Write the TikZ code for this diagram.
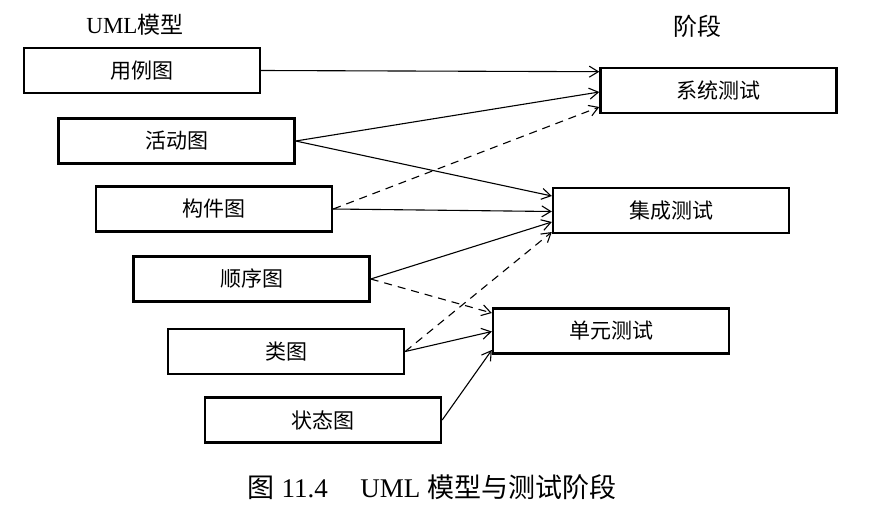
\documentclass[tikz,border=0pt]{standalone}
\usepackage{fontspec}
\setmainfont{Liberation Serif}
\newfontfamily\cjk{Noto Sans CJK SC}
\usetikzlibrary{positioning,arrows.meta}
\tikzset{
model/.style={draw, line width=2.4pt, minimum width=236pt, minimum height=45pt,
  inner sep=0pt, font=\fontsize{21}{21}\selectfont\cjk},
flow/.style={-{Straight Barb[length=9pt,width=11pt]}, line width=1.1pt},
dep/.style={flow, dash pattern=on 8pt off 6pt},
}
\begin{document}
\begin{tikzpicture}[x=1pt,y=-1pt]
        \useasboundingbox (0,0) rectangle (890,514);
        % UML models
        \node[model] (uc) at (142,70.5) {用例图};
        \node[model] (act) at (176.5,141) {活动图};
        \node[model] (comp) at (214,209) {构件图};
        \node[model] (seq) at (251.5,279) {顺序图};
        \node[model] (cls) at (286,351.5) {类图};
        \node[model] (st) at (323,420) {状态图};
        % test phases
        \node[model] (sys) at (718.5,90.5) {系统测试};
        \node[model] (int) at (671,210.5) {集成测试};
        \node[model] (unit) at (611,331) {单元测试};
        % titles
        \node[font=\fontsize{23}{23}\selectfont] (lm) at (135,25) {UML{\cjk 模型}};
        \node[font=\fontsize{24}{24}\selectfont\cjk] (lp) at (697,26) {阶段};
        \node[font=\fontsize{27}{27}\selectfont] (cap) at (432,487)
            {{\cjk 图} 11.4\hspace{1.2em}UML {\cjk 模型与测试阶段}};
        % to system test
        \draw[flow] (uc.east) -- ([yshift=18.8pt]sys.west);
        \draw[flow] (act.east) -- ([yshift=-1.5pt]sys.west);
        \draw[dep] (comp.east) -- ([yshift=-16.5pt]sys.west);
        % to integration test
        \draw[flow] (act.east) -- ([yshift=14.5pt]int.west);
        \draw[flow] (comp.east) -- ([yshift=-1pt]int.west);
        \draw[flow] (seq.east) -- ([yshift=-11.5pt]int.west);
        \draw[dep] (cls.east) -- ([yshift=-21.5pt]int.west);
        % to unit test
        \draw[dep] (seq.east) -- ([yshift=18pt]unit.west);
        \draw[flow] (cls.east) -- ([yshift=-0.5pt]unit.west);
        \draw[flow] (st.east) -- ([yshift=-19pt]unit.west);
    \end{tikzpicture}
\end{document}
